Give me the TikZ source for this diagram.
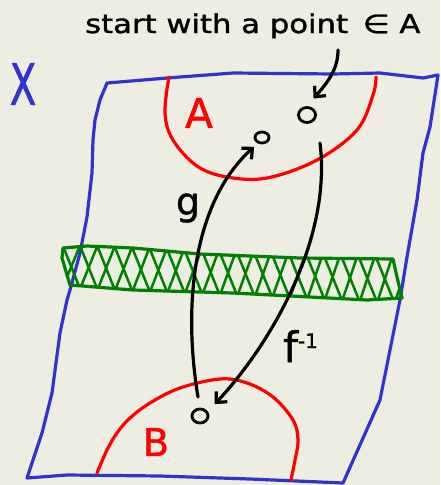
\documentclass[tikz,border=0pt]{standalone}
\usepackage{fontspec}
\setmainfont{DejaVu Sans}
\newfontfamily\hand[FakeBold=1.2]{DejaVu Sans}
\usetikzlibrary{arrows.meta,shapes.geometric}
\definecolor{bg}{RGB}{237,237,226}
\definecolor{xblue}{RGB}{50,50,205}
\definecolor{xred}{RGB}{255,0,0}
\definecolor{xgreen}{RGB}{0,128,0}
\begin{document}
\begin{tikzpicture}[x=1pt,y=-1pt,line cap=round,line join=round,
  pen/.style={line width=3.2pt},
  arr/.style={pen,black,-{Straight Barb[length=8pt,width=15pt]}},
  pnt/.style={ellipse,draw,line width=2.8pt,inner sep=0pt},
  lab/.style={inner sep=0pt,font=\hand}]
\fill[bg] (0,0) rectangle (440,485);
\useasboundingbox (0,0) rectangle (440,485);

% the space X
\draw[pen,xblue] plot coordinates {(107,83) (167,78) (233,73) (333,74) (380,73) (423,78) (438,75)
  (430,127) (423,153) (417,200) (407,257) (400,300) (380,400) (343,483)
  (250,479) (160,476) (67,475) (27,478)
  (42,433) (52,393) (60,333) (67,300) (70,290) (80,253) (87,217) (92,173) (93,140) (95,120) (100,100)} -- cycle;

% region A
\draw[pen,xred] plot[smooth,tension=0.6] coordinates {(169,77) (165,113) (173,140) (197,166) (227,177) (267,178) (317,160) (357,130) (373,95) (376,77)};
% region B
\draw[pen,xred] plot[smooth,tension=0.6] coordinates {(97,473) (107,450) (117,433) (130,418) (150,403) (180,388) (220,379) (247,383) (273,397) (293,420) (298,440) (295,460) (291,480)};

% green band
\begin{scope}
  \clip plot coordinates {(63,248) (87,246) (133,248) (200,254) (300,258) (393,259) (397,277) (402,298) (367,300) (233,293) (133,290) (70,285) (62,258)} -- cycle;
  \foreach \i in {-2,...,21} {
    \pgfmathsetmacro\ta{\i/19}
    \pgfmathsetmacro\tb{\i/19+0.05}
    \draw[line width=2.5pt,xgreen] (63+330*\ta,246+11*\ta) -- (63+332*\tb,287+15*\tb);
    \draw[line width=2.5pt,xgreen] (63+330*\tb,246+11*\tb) -- (63+332*\ta,287+15*\ta);
  }
\end{scope}
\draw[pen,xgreen] plot coordinates {(63,248) (87,246) (133,248) (200,254) (300,258) (393,259) (397,277) (402,298) (367,300) (233,293) (133,290) (70,285) (62,258)} -- cycle;

% points
\node[pnt,minimum width=17pt,minimum height=15pt] (pA1) at (307,115) {};
\node[pnt,minimum width=14pt,minimum height=11pt] (pA2) at (262,137.5) {};
\node[pnt,minimum width=16pt,minimum height=14pt] (pB) at (200,416) {};

% labels
\node[lab,anchor=base west] (lbl) at (85,33) {\scalebox{1.18}[1]{\fontsize{26}{26}\selectfont start with a point \,∈ A}};
\node[lab,text=xblue] (lX) at (23,84) {\scalebox{0.68}[1]{\fontsize{57}{57}\selectfont X}};
\node[lab,text=xred] (lA) at (199,113) {\fontsize{41}{41}\selectfont A};
\node[lab,text=xred] (lB) at (156,442) {\fontsize{38}{38}\selectfont B};
\node[lab] (lg) at (188,208) {\fontsize{38}{38}\selectfont g};
\node[lab,anchor=base west] (lf) at (283,362) {\fontsize{42}{42}\selectfont f\raisebox{14pt}{\fontsize{20}{20}\selectfont -1}};

% arrows
\coordinate (s1) at (338,50);
\coordinate (gs) at (198,397);
\coordinate (fs) at (320,143);
\draw[arr,shorten >=10pt] (s1) .. controls (338,70) and (327,83) .. (pA1.north);
\draw[arr,shorten >=5pt] (gs) .. controls (182,300) and (195,200) .. (pA2.235);
\draw[arr,shorten >=10pt] (fs) .. controls (332,240) and (270,345) .. (pB.30);
\end{tikzpicture}
\end{document}
